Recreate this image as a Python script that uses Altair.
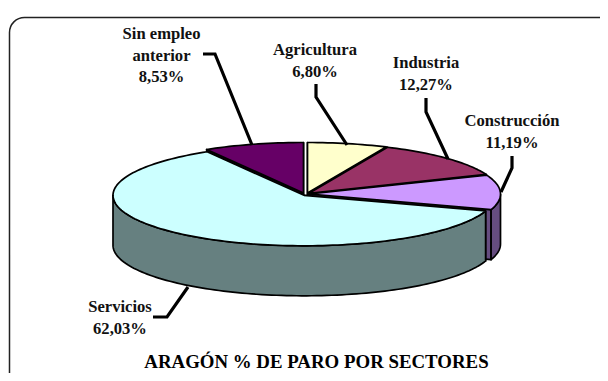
import math
import altair as alt
import pandas as pd

# Chart values
sectors = ["Agricultura", "Industria", "Construcción", "Servicios", "Sin empleo anterior"]
shares = [6.80, 12.27, 11.19, 62.03, 8.53]
top_colors = ["#FFFFCC", "#993366", "#CC99FF", "#CCFFFF", "#660066"]
wall_colors = ["#808066", "#4D1A33", "#664D80", "#668080", "#330033"]
draw_order = [4, 0, 1, 2, 3]
label_text = [["Agricultura", "6,80%"], ["Industria", "12,27%"], ["Construcción", "11,19%"],
              ["Servicios", "62,03%"], ["Sin empleo", "anterior", "8,53%"]]
title_text = "ARAGÓN % DE PARO POR SECTORES"

# Layout, in page pixels
CX, CY, RX, RY, DEPTH = 305.5, 194.5, 191.0, 50.5, 50.0
offsets = [(2, -1.5), (3.5, -1.2), (4, -0.5), (-1.5, 0.8), (-2, -1.5)]
label_x = [315, 426, 512, 120, 161.5]
label_y = [55, 68, 126, 312, 39]
LINE = 21.7
leaders = [
    [(316, 84), (316, 97), (347, 145)],
    [(426, 98), (426, 112), (448, 159)],
    [(512, 156), (512, 168), (501, 192)],
    [(153, 317), (167, 317), (188, 287)],
    [(203, 54), (215, 54), (252, 145)],
]

X = alt.X("x:Q", axis=None, scale=alt.Scale(domain=[8, 600], range=[0, 592], nice=False, zero=False))
Y = alt.Y("y:Q", axis=None, scale=alt.Scale(domain=[8, 373], range=[0, 365], nice=False, zero=False))


def ell(th, ox, oy, dz=0.0):
    return (CX + ox + RX * math.sin(th), CY + oy - RY * math.cos(th) + dz)


def poly(points, fill, width=1.7):
    rows = [{"x": p[0], "y": p[1], "s": i} for i, p in enumerate(points + points[:1])]
    return alt.Chart(pd.DataFrame(rows)).mark_line(
        fill=fill, stroke="black", strokeWidth=width, strokeJoin="round", clip=False
    ).encode(x=X, y=Y, order="s:Q")


def sample(a, b):
    n = max(2, int(abs(b - a) / math.radians(1.5)))
    return [a + (b - a) * i / n for i in range(n + 1)]


total = sum(shares)
cum = [0.0]
for s in shares:
    cum.append(cum[-1] + s)

layers = []

# frame
frame = pd.DataFrame([{"x": 9.5, "x2": 640, "y": 17.5, "y2": 400}])
layers.append(alt.Chart(frame).mark_rect(
    cornerRadius=15, fill="white", stroke="#222222", strokeWidth=1.5, clip=False
).encode(x=X, x2="x2:Q", y=Y, y2="y2:Q"))

for idx in draw_order:
    a = cum[idx] / total * 2 * math.pi
    b = cum[idx + 1] / total * 2 * math.pi
    ox, oy = offsets[idx]
    apex = (CX + ox, CY + oy)
    apex_low = (apex[0], apex[1] + DEPTH)
    wall = wall_colors[idx]
    for th in (a, b):
        pts = [apex, ell(th, ox, oy), ell(th, ox, oy, DEPTH), apex_low]
        layers.append(poly(pts, wall))
    lo, hi = max(a, math.pi / 2), min(b, 3 * math.pi / 2)
    if hi > lo:
        ts = sample(lo, hi)
        pts = [ell(t, ox, oy) for t in ts] + [ell(t, ox, oy, DEPTH) for t in reversed(ts)]
        layers.append(poly(pts, wall))
    pts = [apex] + [ell(t, ox, oy) for t in sample(a, b)]
    layers.append(poly(pts, top_colors[idx]))

for pts in leaders:
    df = pd.DataFrame([{"x": p[0], "y": p[1], "s": i} for i, p in enumerate(pts)])
    layers.append(alt.Chart(df).mark_line(
        color="black", strokeWidth=3.2, strokeJoin="miter", clip=False
    ).encode(x=X, y=Y, order="s:Q"))

rows = []
for i, lines in enumerate(label_text):
    for j, t in enumerate(lines):
        rows.append({"x": label_x[i], "y": label_y[i] + j * LINE, "t": t})
layers.append(alt.Chart(pd.DataFrame(rows)).mark_text(
    font="Liberation Serif", fontWeight="bold", fontSize=16.6, color="#111111",
    align="center", baseline="alphabetic"
).encode(x=X, y=Y, text="t:N"))

layers.append(alt.Chart(pd.DataFrame([{"x": 316.5, "y": 368, "t": title_text}])).mark_text(
    font="Liberation Serif", fontWeight="bold", fontSize=18.85, color="black",
    align="center", baseline="alphabetic"
).encode(x=X, y=Y, text="t:N"))

chart = alt.layer(*layers).properties(
    width=592, height=365, padding=0, autosize=alt.AutoSizeParams(type="none"),
    background="white"
).configure_view(stroke=None)

chart.save("out.html", embed_options={"renderer": "svg", "actions": False})
